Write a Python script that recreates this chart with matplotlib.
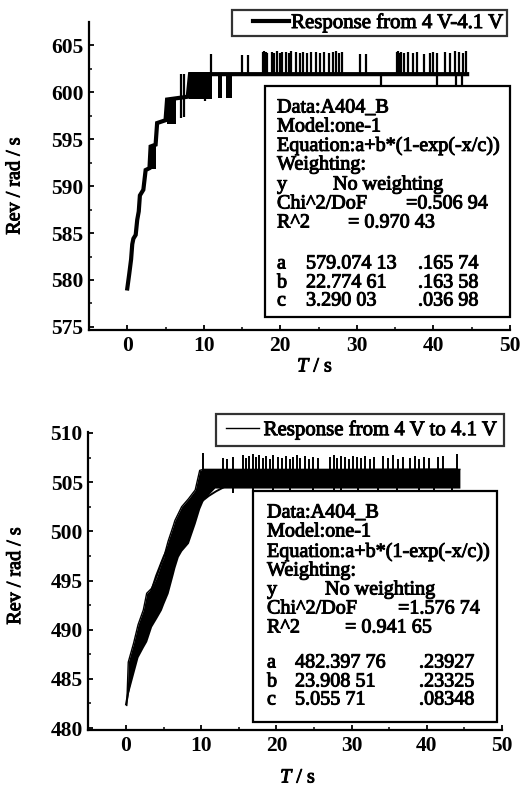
import matplotlib
matplotlib.use("Agg")
import matplotlib.pyplot as plt
import matplotlib.patheffects as pe
from matplotlib.patches import Rectangle
from matplotlib.lines import Line2D
from matplotlib.legend_handler import HandlerLine2D
from matplotlib.ticker import MultipleLocator

plt.rcParams["font.family"] = ["Liberation Serif", "DejaVu Serif"]
plt.rcParams["mathtext.fontset"] = "custom"
plt.rcParams["mathtext.rm"] = "Liberation Serif"
plt.rcParams["mathtext.it"] = "Liberation Serif:italic"

# ---------------- data: top chart ----------------
top_label = "Response from 4 V-4.1 V"
top_t = [0.0, 0.25, 0.5, 0.65, 0.8, 1.1, 1.3, 1.5, 1.65, 2.1, 2.4, 2.9, 3.05,
         3.7, 3.9, 5.0, 5.2, 7.9, 8.2, 44.4]
top_v = [579.1, 580.6, 582.2, 583.8, 584.4, 584.8, 586.4, 587.3, 589.0, 589.6,
         591.7, 591.9, 594.2, 594.4, 596.7, 597.0, 599.2, 599.5, 601.9, 601.9]
# noisy blocks: start, end, low, high
top_blk_t0 = [3.0, 5.2, 8.1, 11.8, 12.9]
top_blk_t1 = [3.7, 6.4, 11.1, 12.4, 13.7]
top_blk_lo = [591.8, 596.6, 599.3, 599.4, 599.4]
top_blk_hi = [594.4, 599.3, 602.1, 601.9, 601.9]
# upward spikes
top_up_t = [11.0, 15.0, 15.8, 17.7, 17.9, 18.1, 18.3, 18.9, 19.2, 19.6, 19.9,
            20.2, 20.8, 21.1, 21.4, 22.0, 22.5, 23.0, 23.5, 24.0, 24.7, 25.2,
            25.7, 26.4, 26.9, 27.3, 27.7, 28.0, 30.4, 31.2, 35.2, 35.4, 35.6,
            35.8, 36.2, 36.7, 37.3, 37.8, 38.7, 39.6, 40.0, 40.4, 41.5, 42.1,
            42.8, 43.4, 43.9, 44.3]
top_up_v = [604.0, 603.9, 603.9, 604.3, 604.4, 604.3, 604.2, 604.3, 604.2,
            604.4, 604.2, 604.3, 604.3, 604.2, 604.4, 604.3, 604.2, 604.3,
            604.2, 604.3, 604.3, 604.2, 604.3, 604.2, 604.3, 604.4, 604.2,
            604.3, 604.0, 604.0, 604.3, 604.4, 604.2, 604.3, 604.2, 604.3,
            604.2, 604.3, 604.0, 604.2, 604.3, 604.2, 604.3, 604.2, 604.4,
            604.3, 604.2, 604.4]
top_dn_t = [7.0, 7.4, 10.1, 33.2, 40.5, 42.9, 43.7]
top_dn_v = [597.2, 597.3, 599.0, 600.7, 600.8, 600.7, 600.8]

top_box_head = ["Data:A404_B", "Model:one-1", "Equation:a+b*(1-exp(-x/c))",
                "Weighting:"]
top_weight = ("y", "No weighting")
top_chi = ("Chi^2/DoF", "=0.506 94")
top_r2 = ("R^2", "= 0.970 43")
top_par_name = ["a", "b", "c"]
top_par_val = ["579.074 13", "22.774 61", "3.290 03"]
top_par_err = [".165 74", ".163 58", ".036 98"]

# ---------------- data: bottom chart ----------------
bot_label = "Response from 4 V to 4.1 V"
bot_band_t = [0.1, 0.3, 1.0, 1.6, 2.3, 2.75, 3.4, 4.1, 4.7, 5.0, 5.6, 6.3,
              6.5, 6.95, 7.4, 8.3, 9.2, 9.8, 10.3, 11.8, 44.4]
bot_band_hi = [482.3, 486.7, 488.6, 490.5, 492.0, 493.7, 494.2, 495.4, 496.8,
               497.3, 499.0, 500.6, 501.1, 501.8, 502.5, 503.3, 504.2, 506.2,
               506.3, 506.3, 506.3]
bot_band_lo = [482.3, 483.5, 485.5, 487.2, 488.2, 488.8, 490.3, 491.2, 492.0,
               492.6, 493.7, 495.7, 496.3, 497.4, 498.0, 498.8, 500.8, 502.3,
               503.2, 504.4, 504.4]
bot_up_t = [10.3, 12.9, 13.4, 14.2, 15.6, 16.0, 16.4, 16.9, 17.3, 17.7, 18.2,
            18.6, 19.1, 19.6, 20.2, 20.7, 21.3, 21.8, 22.2, 22.7, 23.2, 23.8,
            24.4, 24.9, 25.5, 27.1, 27.6, 28.1, 28.6, 29.1, 29.6, 30.2, 30.7,
            31.2, 31.8, 32.4, 33.0, 34.2, 34.8, 35.5, 36.2, 36.8, 37.8, 38.4,
            39.0, 39.6, 40.3, 41.5, 42.1, 44.0]
bot_up_v = [508.0, 507.5, 507.4, 507.6, 507.8, 507.5, 507.7, 507.9, 507.6,
            507.8, 507.5, 507.7, 507.4, 507.8, 507.6, 507.5, 507.7, 507.4,
            507.6, 507.8, 507.5, 507.7, 507.4, 507.6, 507.5, 507.6, 507.8,
            507.5, 507.7, 507.6, 507.4, 507.7, 507.6, 507.5, 507.7, 507.4,
            507.6, 507.7, 507.5, 507.8, 507.4, 507.6, 507.5, 507.7, 507.4,
            507.6, 507.5, 507.6, 507.7, 507.9]
bot_dn_t = [14.2, 16.9, 19.6, 21.8, 24.9, 27.7, 28.6, 30.8, 33.5, 36.0, 38.9,
            41.0, 43.3]
bot_dn_v = [503.9, 503.8, 503.9, 503.8, 503.9, 503.8, 503.9, 503.8, 503.9,
            503.8, 503.9, 503.8, 503.9]
bot_fit_t = [0, 1, 2, 3, 4, 5, 6, 7, 8, 9, 10, 11, 12, 13, 14, 15, 16, 18, 20,
             25, 30, 44]
bot_fit_v = [482.40, 486.69, 490.21, 493.10, 495.47, 497.42, 499.01, 500.32,
             501.40, 502.28, 503.00, 503.60, 504.08, 504.48, 504.81, 505.08,
             505.30, 505.63, 505.85, 506.14, 506.25, 506.30]

bot_box_head = ["Data:A404_B", "Model:one-1", "Equation:a+b*(1-exp(-x/c))",
                "Weighting:"]
bot_weight = ("y", "No weighting")
bot_chi = ("Chi^2/DoF", "=1.576 74")
bot_r2 = ("R^2", "= 0.941 65")
bot_par_name = ["a", "b", "c"]
bot_par_val = ["482.397 76", "23.908 51", "5.055 71"]
bot_par_err = [".23927", ".23325", ".08348"]

x_ticks = [0, 10, 20, 30, 40, 50]
top_y_ticks = [575, 580, 585, 590, 595, 600, 605]
bot_y_ticks = [480, 485, 490, 495, 500, 505, 510]

# ---------------- figure ----------------
W, H = 528, 788
fig = plt.figure(figsize=(W / 100, H / 100), dpi=100)
INK = [pe.withStroke(linewidth=0.7, foreground="black")]


def fx(x):
    return x / W


def fy(y):
    return 1 - y / H


ax1 = fig.add_axes([fx(89), fy(330), (510 - 89) / W, (330 - 22) / H])
ax2 = fig.add_axes([fx(88.4), fy(730), (502 - 88.4) / W, (730 - 432) / H])


def style(ax, yticks, ylim, ylab_y, xlab_xy):
    ax.set_xlim(-5, 50)
    ax.set_ylim(*ylim)
    ax.spines["top"].set_visible(False)
    ax.spines["right"].set_visible(False)
    for s in ("left", "bottom"):
        ax.spines[s].set_linewidth(1.6)
    ax.set_xticks(x_ticks)
    ax.set_yticks(yticks)
    ax.xaxis.set_minor_locator(MultipleLocator(5))
    ax.yaxis.set_minor_locator(MultipleLocator(2.5))
    ax.tick_params(which="major", direction="in", length=3.5, width=1.3,
                   labelsize=15.5, pad=4)
    ax.tick_params(which="minor", direction="in", length=2.5, width=1.1)
    for lab in ax.get_xticklabels() + ax.get_yticklabels():
        lab.set_fontweight("bold")
    ax.set_ylabel("Rev / rad / s", fontsize=14.5, va="center",
                  path_effects=INK)
    ax.yaxis.set_label_coords(-0.176, ylab_y)
    ax.set_xlabel(r"$T$ / s", fontsize=14.5, va="center", path_effects=INK)
    ax.xaxis.set_label_coords(*xlab_xy)


style(ax1, top_y_ticks, (574.68, 607.45), 0.4675, (0.537, -0.12))
style(ax2, bot_y_ticks, (479.8, 510.1), 0.517, (0.507, -0.161))

# top chart marks
for t0, t1, lo, hi in zip(top_blk_t0, top_blk_t1, top_blk_lo, top_blk_hi):
    ax1.fill_between([t0, t1], [lo, lo], [hi, hi], color="black", lw=0,
                     zorder=2)
ax1.vlines(top_up_t, 601.9, top_up_v, color="black", lw=1.6, zorder=2)
ax1.vlines(top_dn_t, top_dn_v, 601.9, color="black", lw=1.6, zorder=2)
ax1.plot(top_t, top_v, color="black", lw=3.0, zorder=3, label=top_label,
         solid_joinstyle="miter")

# bottom chart marks
ax2.fill_between(bot_band_t, bot_band_lo, bot_band_hi, color="black", lw=0,
                 zorder=2)
ax2.vlines(bot_up_t, 505.5, bot_up_v, color="black", lw=1.4, zorder=2)
ax2.vlines(bot_dn_t, bot_dn_v, 505.0, color="black", lw=1.4, zorder=2)
ax2.plot(bot_band_t, bot_band_hi, color="black", lw=1.0, zorder=2,
         label=bot_label)
ax2.plot(bot_fit_t, bot_fit_v, color="black", lw=1.4, zorder=3)


class PadLineHandler(HandlerLine2D):
    """Legend line sample that leaves blank space at its left end."""

    def __init__(self, frac, **kw):
        super().__init__(**kw)
        self.frac = frac

    def create_artists(self, legend, orig_handle, xdescent, ydescent, width,
                       height, fontsize, trans):
        arts = super().create_artists(legend, orig_handle, xdescent, ydescent,
                                      width, height, fontsize, trans)
        for a in arts:
            if isinstance(a, Line2D):
                xd = list(a.get_xdata())
                yd = list(a.get_ydata())
                if len(xd) > 1:
                    lo, hi = min(xd), max(xd)
                    a.set_data([lo + (hi - lo) * self.frac, hi],
                               [yd[0], yd[0]])
        return arts


# legends
leg_specs = [
    (ax1, (507, 10), 2.6, 0.33, 0.1, 0.15),
    (ax2, (504, 414), 1.8, 0.12, 0.2, 0.3),
]
for ax, (rx, ry), hl, frac, tp, bp in leg_specs:
    h = ax.get_lines()[0]
    leg = ax.legend(handles=[h], loc="upper right",
                    bbox_to_anchor=(fx(rx), fy(ry)),
                    bbox_transform=fig.transFigure, borderaxespad=0,
                    fontsize=15, frameon=True, fancybox=False,
                    handlelength=hl, handletextpad=tp, borderpad=bp,
                    handler_map={h: PadLineHandler(frac)})
    leg.get_frame().set_edgecolor("black")
    leg.get_frame().set_linewidth(1.6)
    for txt in leg.get_texts():
        txt.set_path_effects(INK)


# result boxes
def result_box(box, head, weight, chi, r2, names, vals, errs, rows, cols):
    x0, y0, x1, y1 = box
    fig.add_artist(Rectangle((fx(x0), fy(y1)), (x1 - x0) / W, (y1 - y0) / H,
                             transform=fig.transFigure, facecolor="white",
                             edgecolor="black", lw=1.6, zorder=5))
    cx, cw, cchi, cr2, cval, cerr = cols
    kw = dict(fontsize=14.5, va="center", ha="left", zorder=6,
              path_effects=INK)
    for i, line in enumerate(head):
        fig.text(fx(cx), fy(rows[i]), line, **kw)
    for j, pair in enumerate((weight, chi, r2)):
        y = rows[4 + j]
        fig.text(fx(cx), fy(y), pair[0], **kw)
        fig.text(fx((cw, cchi, cr2)[j]), fy(y), pair[1], **kw)
    for k in range(3):
        y = rows[7 + k]
        fig.text(fx(cx), fy(y), names[k], **kw)
        fig.text(fx(cval), fy(y), vals[k], **kw)
        fig.text(fx(cerr), fy(y), errs[k], **kw)


result_box((265, 86, 510, 317), top_box_head, top_weight, top_chi, top_r2,
           top_par_name, top_par_val, top_par_err,
           [108, 127, 146, 165, 185, 204, 223, 264, 283, 301],
           (277, 333, 406, 348, 306, 418))
result_box((253, 491, 497, 722), bot_box_head, bot_weight, bot_chi, bot_r2,
           bot_par_name, bot_par_val, bot_par_err,
           [513, 532, 552, 571, 590, 609, 628, 663, 682, 700],
           (267, 325, 398, 345, 295, 419))

fig.savefig("out.png", dpi=100)
